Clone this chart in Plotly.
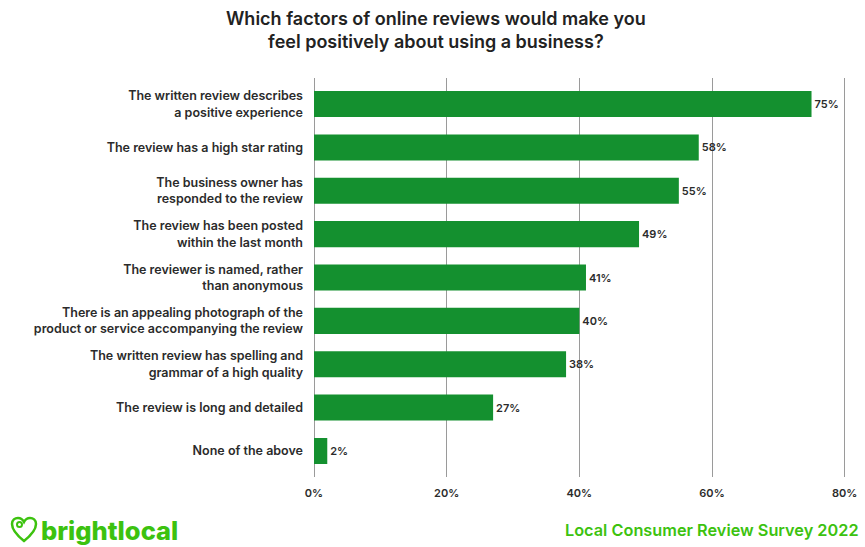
import plotly.graph_objects as go

# Survey answers, top to bottom
factors = [
    "The written review describes<br>a positive experience",
    "The review has a high star rating",
    "The business owner has<br>responded to the review",
    "The review has been posted<br>within the last month",
    "The reviewer is named, rather<br>than anonymous",
    "There is an appealing photograph of the<br>product or service accompanying the review",
    "The written review has spelling and<br>grammar of a high quality",
    "The review is long and detailed",
    "None of the above",
]
shares = [75, 58, 55, 49, 41, 40, 38, 27, 2]
tick_vals = [0, 20, 40, 60, 80]
tick_text = ["0%", "20%", "40%", "60%", "80%"]

BAR_GREEN = "#14902f"
BRAND_GREEN = "#3cc20f"
TEXT_DARK = "#2b2b2b"
FONT = "Inter"

fig = go.Figure(
    go.Bar(
        x=shares,
        y=factors,
        orientation="h",
        marker=dict(color=BAR_GREEN, line=dict(width=0)),
        text=[f"{v}%" for v in shares],
        textposition="outside",
        textfont=dict(family=FONT, size=11, color=TEXT_DARK, weight=600),
        cliponaxis=False,
        hoverinfo="skip",
    )
)

fig.update_layout(
    width=865,
    height=547,
    margin=dict(l=314, r=17, t=78, b=70, autoexpand=False),
    paper_bgcolor="white",
    plot_bgcolor="white",
    bargap=0.4,
    showlegend=False,
)

fig.update_xaxes(
    range=[0, 80.5],
    tickvals=tick_vals,
    ticktext=tick_text,
    showgrid=True,
    gridcolor="#9a9a9a",
    gridwidth=1,
    zeroline=True,
    zerolinecolor="#9a9a9a",
    zerolinewidth=1,
    showline=False,
    ticks="",
    ticklabelstandoff=8,
    tickfont=dict(family=FONT, size=11, color=TEXT_DARK, weight=600),
    automargin=False,
    fixedrange=True,
)

fig.update_yaxes(
    autorange=False,
    range=[8.6, -0.6],
    showgrid=False,
    zeroline=False,
    showline=False,
    ticks="",
    ticklabelstandoff=10,
    tickfont=dict(family=FONT, size=12.5, color=TEXT_DARK, weight=600),
    automargin=False,
    fixedrange=True,
)

# Chart title
fig.add_annotation(
    text="Which factors of online reviews would make you<br>feel positively about using a business?",
    xref="paper", yref="paper",
    x=0, y=1,
    xshift=122, yshift=72,
    xanchor="center", yanchor="top",
    align="center",
    showarrow=False,
    font=dict(family=FONT, size=18, color="#222222", weight=600),
)

# Brand mark: heart-shaped pin outline with a dot
fig.add_shape(
    type="path",
    xref="paper", yref="paper",
    xsizemode="pixel", ysizemode="pixel",
    xanchor=0, yanchor=0,
    path=(
        "M -290,-64 C -300,-56 -302,-50 -302,-47 "
        "C -302,-43 -299,-41 -296,-41 C -293,-41 -291,-43 -290,-45 "
        "C -289,-43 -287,-41 -284,-41 C -281,-41 -278,-43 -278,-47 "
        "C -278,-50 -280,-56 -290,-64 Z"
    ),
    line=dict(color=BRAND_GREEN, width=2.5),
    fillcolor="rgba(0,0,0,0)",
)
fig.add_shape(
    type="circle",
    xref="paper", yref="paper",
    xsizemode="pixel", ysizemode="pixel",
    xanchor=0, yanchor=0,
    x0=-297, x1=-292, y0=-50, y1=-45,
    line=dict(color=BRAND_GREEN, width=2),
    fillcolor="rgba(0,0,0,0)",
)

fig.add_annotation(
    text="brightlocal",
    xref="paper", yref="paper",
    x=0, y=0,
    xshift=-275, yshift=-53,
    xanchor="left", yanchor="middle",
    showarrow=False,
    font=dict(family=FONT, size=25.5, color=BRAND_GREEN, weight=800),
)
fig.add_annotation(
    text="Local Consumer Review Survey 2022",
    xref="paper", yref="paper",
    x=1, y=0,
    xshift=13, yshift=-53,
    xanchor="right", yanchor="middle",
    showarrow=False,
    font=dict(family=FONT, size=16.3, color=BRAND_GREEN, weight=600),
)

fig.write_html("out.html")
